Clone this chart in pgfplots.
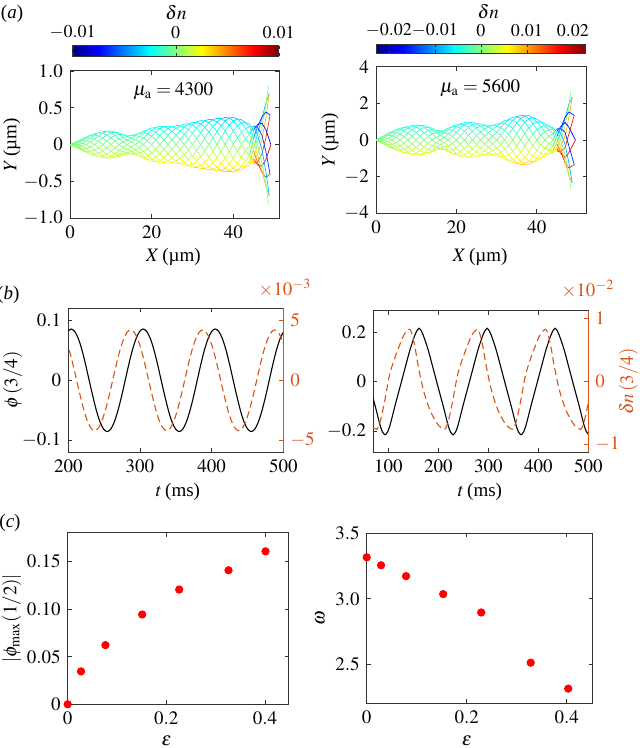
\documentclass[border=0pt]{standalone}
\usepackage{mathptmx}
\usepackage{fontspec}
\setmainfont{Liberation Serif}
\usepackage{pgfplots}
\usepackage{pgfplotstable}
\pgfplotsset{compat=1.18}
\definecolor{bred}{HTML}{D95319}
\newcommand{\fs}{\fontsize{9.5}{11}\selectfont}
\pgfplotsset{
  base/.style={scale only axis, anchor=south west,
    axis line style={black!80, line width=0.5pt},
    tick style={black!80, line width=0.4pt},
    major tick length=2pt, tick align=inside,
    tick label style={font=\fs}, scaled ticks=false},
  cbar/.style={scale only axis, anchor=south west, scaled ticks=false,
    xticklabel pos=upper, tick align=inside, major tick length=1.5pt,
    tick label style={font=\fontsize{9}{10}\selectfont},
    axis line style={black!80, line width=0.4pt},
    tick style={black!80}},
  fil/.style={mesh, line width=0.35pt},
}
% filament shapes, mu_a = 4300
\pgfplotstableread{
X y0 y1 y2 y3 y4 y5 y6 y7 y8 y9 y10 y11
0 0 0 0 0 0 0 0 0 0 0 0 0
1 0.007 -0.007 -0.018 -0.024 -0.024 -0.018 -0.007 0.007 0.018 0.024 0.024 0.018
2 0.025 0 -0.025 -0.043 -0.05 -0.043 -0.025 0 0.025 0.043 0.05 0.043
3 0.057 0.021 -0.021 -0.057 -0.077 -0.077 -0.057 -0.021 0.021 0.057 0.077 0.077
4 0.091 0.053 0 -0.053 -0.091 -0.105 -0.091 -0.053 0 0.053 0.091 0.105
5 0.126 0.092 0.034 -0.034 -0.092 -0.126 -0.126 -0.092 -0.034 0.034 0.092 0.126
6 0.15 0.13 0.075 0 -0.075 -0.13 -0.15 -0.13 -0.075 0 0.075 0.13
7 0.159 0.159 0.117 0.043 -0.043 -0.117 -0.159 -0.159 -0.117 -0.043 0.043 0.117
8 0.154 0.178 0.154 0.089 0 -0.089 -0.154 -0.178 -0.154 -0.089 0 0.089
9 0.131 0.179 0.179 0.131 0.048 -0.048 -0.131 -0.179 -0.179 -0.131 -0.048 0.048
10 0.093 0.16 0.185 0.16 0.093 0 -0.093 -0.16 -0.185 -0.16 -0.093 0
11 0.045 0.124 0.169 0.169 0.124 0.045 -0.045 -0.124 -0.169 -0.169 -0.124 -0.045
12 0 0.08 0.139 0.16 0.139 0.08 0 -0.08 -0.139 -0.16 -0.139 -0.08
13 -0.036 0.036 0.099 0.135 0.135 0.099 0.036 -0.036 -0.099 -0.135 -0.135 -0.099
14 -0.064 0 0.064 0.111 0.128 0.111 0.064 0 -0.064 -0.111 -0.128 -0.111
15 -0.091 -0.033 0.033 0.091 0.124 0.124 0.091 0.033 -0.033 -0.091 -0.124 -0.124
16 -0.121 -0.07 0 0.07 0.121 0.14 0.121 0.07 0 -0.07 -0.121 -0.14
17 -0.155 -0.113 -0.041 0.041 0.113 0.155 0.155 0.113 0.041 -0.041 -0.113 -0.155
18 -0.185 -0.16 -0.093 0 0.093 0.16 0.185 0.16 0.093 0 -0.093 -0.16
19 -0.203 -0.203 -0.149 -0.054 0.054 0.149 0.203 0.203 0.149 0.054 -0.054 -0.149
20 -0.197 -0.228 -0.197 -0.114 0 0.114 0.197 0.228 0.197 0.114 0 -0.114
21 -0.17 -0.232 -0.232 -0.17 -0.062 0.062 0.17 0.232 0.232 0.17 0.062 -0.062
22 -0.124 -0.215 -0.248 -0.215 -0.124 0 0.124 0.215 0.248 0.215 0.124 0
23 -0.065 -0.178 -0.243 -0.243 -0.178 -0.065 0.065 0.178 0.243 0.243 0.178 0.065
24 0 -0.126 -0.218 -0.252 -0.218 -0.126 0 0.126 0.218 0.252 0.218 0.126
25 0.065 -0.065 -0.178 -0.243 -0.243 -0.178 -0.065 0.065 0.178 0.243 0.243 0.178
26 0.128 0 -0.128 -0.222 -0.256 -0.222 -0.128 0 0.128 0.222 0.256 0.222
27 0.187 0.069 -0.069 -0.187 -0.256 -0.256 -0.187 -0.069 0.069 0.187 0.256 0.256
28 0.241 0.139 0 -0.139 -0.241 -0.278 -0.241 -0.139 0 0.139 0.241 0.278
29 0.282 0.207 0.076 -0.076 -0.207 -0.282 -0.282 -0.207 -0.076 0.076 0.207 0.282
30 0.305 0.264 0.153 0 -0.153 -0.264 -0.305 -0.264 -0.153 0 0.153 0.264
31 0.305 0.305 0.223 0.082 -0.082 -0.223 -0.305 -0.305 -0.223 -0.082 0.082 0.223
32 0.282 0.326 0.282 0.163 0 -0.163 -0.282 -0.326 -0.282 -0.163 0 0.163
33 0.237 0.324 0.324 0.237 0.087 -0.087 -0.237 -0.324 -0.324 -0.237 -0.087 0.087
34 0.172 0.297 0.343 0.297 0.172 0 -0.172 -0.297 -0.343 -0.297 -0.172 0
35 0.091 0.248 0.338 0.338 0.248 0.091 -0.091 -0.248 -0.338 -0.338 -0.248 -0.091
36 0 0.179 0.309 0.357 0.309 0.179 0 -0.179 -0.309 -0.357 -0.309 -0.179
37 -0.094 0.094 0.257 0.352 0.352 0.257 0.094 -0.094 -0.257 -0.352 -0.352 -0.257
38 -0.185 0 0.185 0.32 0.37 0.32 0.185 0 -0.185 -0.32 -0.37 -0.32
39 -0.265 -0.097 0.097 0.265 0.361 0.361 0.265 0.097 -0.097 -0.265 -0.361 -0.361
40 -0.322 -0.186 0 0.186 0.322 0.372 0.322 0.186 0 -0.186 -0.322 -0.372
41 -0.348 -0.255 -0.093 0.093 0.255 0.348 0.348 0.255 0.093 -0.093 -0.255 -0.348
42 -0.34 -0.294 -0.17 0 0.17 0.294 0.34 0.294 0.17 0 -0.17 -0.294
43 -0.299 -0.299 -0.219 -0.08 0.08 0.219 0.299 0.299 0.219 0.08 -0.08 -0.219
44 -0.242 -0.28 -0.242 -0.14 0 0.14 0.242 0.28 0.242 0.14 0 -0.14
}\tabL
% filament shapes, mu_a = 5600
\pgfplotstableread{
X y0 y1 y2 y3 y4 y5 y6 y7 y8 y9 y10 y11
0 0 0 0 0 0 0 0 0 0 0 0 0
1 0.031 -0.031 -0.085 -0.116 -0.116 -0.085 -0.031 0.031 0.085 0.116 0.116 0.085
2 0.12 0 -0.12 -0.208 -0.24 -0.208 -0.12 0 0.12 0.208 0.24 0.208
3 0.255 0.093 -0.093 -0.255 -0.348 -0.348 -0.255 -0.093 0.093 0.255 0.348 0.348
4 0.398 0.23 0 -0.23 -0.398 -0.46 -0.398 -0.23 0 0.23 0.398 0.46
5 0.541 0.396 0.145 -0.145 -0.396 -0.541 -0.541 -0.396 -0.145 0.145 0.396 0.541
6 0.64 0.554 0.32 0 -0.32 -0.554 -0.64 -0.554 -0.32 0 0.32 0.554
7 0.686 0.686 0.502 0.184 -0.184 -0.502 -0.686 -0.686 -0.502 -0.184 0.184 0.502
8 0.658 0.76 0.658 0.38 0 -0.38 -0.658 -0.76 -0.658 -0.38 0 0.38
9 0.566 0.773 0.773 0.566 0.207 -0.207 -0.566 -0.773 -0.773 -0.566 -0.207 0.207
10 0.41 0.71 0.82 0.71 0.41 0 -0.41 -0.71 -0.82 -0.71 -0.41 0
11 0.212 0.58 0.792 0.792 0.58 0.212 -0.212 -0.58 -0.792 -0.792 -0.58 -0.212
12 0 0.395 0.684 0.79 0.684 0.395 0 -0.395 -0.684 -0.79 -0.684 -0.395
13 -0.189 0.189 0.516 0.705 0.705 0.516 0.189 -0.189 -0.516 -0.705 -0.705 -0.516
14 -0.32 0 0.32 0.554 0.64 0.554 0.32 0 -0.32 -0.554 -0.64 -0.554
15 -0.389 -0.142 0.142 0.389 0.531 0.531 0.389 0.142 -0.142 -0.389 -0.531 -0.531
16 -0.433 -0.25 0 0.25 0.433 0.5 0.433 0.25 0 -0.25 -0.433 -0.5
17 -0.522 -0.382 -0.14 0.14 0.382 0.522 0.522 0.382 0.14 -0.14 -0.382 -0.522
18 -0.65 -0.563 -0.325 0 0.325 0.563 0.65 0.563 0.325 0 -0.325 -0.563
19 -0.734 -0.734 -0.537 -0.197 0.197 0.537 0.734 0.734 0.537 0.197 -0.197 -0.537
20 -0.736 -0.85 -0.736 -0.425 0 0.425 0.736 0.85 0.736 0.425 0 -0.425
21 -0.643 -0.879 -0.879 -0.643 -0.236 0.236 0.643 0.879 0.879 0.643 0.236 -0.236
22 -0.475 -0.823 -0.95 -0.823 -0.475 0 0.475 0.823 0.95 0.823 0.475 0
23 -0.251 -0.686 -0.937 -0.937 -0.686 -0.251 0.251 0.686 0.937 0.937 0.686 0.251
24 0 -0.48 -0.831 -0.96 -0.831 -0.48 0 0.48 0.831 0.96 0.831 0.48
25 0.238 -0.238 -0.651 -0.889 -0.889 -0.651 -0.238 0.238 0.651 0.889 0.889 0.651
26 0.435 0 -0.435 -0.753 -0.87 -0.753 -0.435 0 0.435 0.753 0.87 0.753
27 0.587 0.215 -0.215 -0.587 -0.802 -0.802 -0.587 -0.215 0.215 0.587 0.802 0.802
28 0.701 0.405 0 -0.405 -0.701 -0.81 -0.701 -0.405 0 0.405 0.701 0.81
29 0.792 0.58 0.212 -0.212 -0.58 -0.792 -0.792 -0.58 -0.212 0.212 0.58 0.792
30 0.87 0.753 0.435 0 -0.435 -0.753 -0.87 -0.753 -0.435 0 0.435 0.753
31 0.918 0.918 0.672 0.246 -0.246 -0.672 -0.918 -0.918 -0.672 -0.246 0.246 0.672
32 0.909 1.05 0.909 0.525 0 -0.525 -0.909 -1.05 -0.909 -0.525 0 0.525
33 0.813 1.111 1.111 0.813 0.298 -0.298 -0.813 -1.111 -1.111 -0.813 -0.298 0.298
34 0.62 1.074 1.24 1.074 0.62 0 -0.62 -1.074 -1.24 -1.074 -0.62 0
35 0.339 0.926 1.265 1.265 0.926 0.339 -0.339 -0.926 -1.265 -1.265 -0.926 -0.339
36 0 0.675 1.169 1.35 1.169 0.675 0 -0.675 -1.169 -1.35 -1.169 -0.675
37 -0.352 0.352 0.962 1.314 1.314 0.962 0.352 -0.352 -0.962 -1.314 -1.314 -0.962
38 -0.665 0 0.665 1.152 1.33 1.152 0.665 0 -0.665 -1.152 -1.33 -1.152
39 -0.884 -0.324 0.324 0.884 1.207 1.207 0.884 0.324 -0.324 -0.884 -1.207 -1.207
40 -0.987 -0.57 0 0.57 0.987 1.14 0.987 0.57 0 -0.57 -0.987 -1.14
41 -0.985 -0.721 -0.264 0.264 0.721 0.985 0.985 0.721 0.264 -0.264 -0.721 -0.985
42 -0.9 -0.779 -0.45 0 0.45 0.779 0.9 0.779 0.45 0 -0.45 -0.779
43 -0.753 -0.753 -0.552 -0.202 0.202 0.552 0.753 0.753 0.552 0.202 -0.202 -0.552
44 -0.589 -0.68 -0.589 -0.34 0 0.34 0.589 0.68 0.589 0.34 0 -0.34
}\tabR

\begin{document}
\begin{tikzpicture}
\useasboundingbox (0,0) rectangle (319.5pt,374pt);

% ---------------- (a) left
\begin{axis}[base, at={(35pt,264.85pt)}, width=104.65pt, height=73.65pt,
  xmin=0, xmax=51.26, ymin=-1, ymax=1,
  xtick={0,20,40}, ytick={-1,-0.5,0,0.5,1},
  yticklabels={$-1.0$,$-0.5$,$0$,$0.5$,$1.0$},
  colormap/jet, point meta min=-0.01, point meta max=0.01,
  colorbar horizontal, colorbar shift/.style={},
  colorbar style={cbar, at={(36.35pt,346pt)}, anchor=south west,
    width=103pt, height=5.15pt,
    xtick={-0.01,0,0.01}, xticklabels={$-0.01$,$0$,$0.01$}}]
\pgfplotsinvokeforeach{0,...,11}{
  \addplot[fil, point meta={-0.0097*\thisrow{y#1}}]
    table[x=X, y=y#1] {\tabL};
}
\addplot[fil, point meta=explicit] coordinates {(44,-0.242)[0.00235] (45,-0.045)[-0.0021] (46,0.161)[-0.00375] (47,0.357)[-0.00375] (48,0.571)[-0.00375] (48.8,0.693)[-0.00375]};
\addplot[fil, point meta=explicit] coordinates {(44,-0.28)[0.00272] (45,-0.167)[0.0006] (46,0.024)[0] (47,0.244)[0] (48,0.545)[0] (48.6,0.8)[0]};
\addplot[fil, point meta=explicit] coordinates {(44,-0.242)[0.00235] (45,-0.244)[0.0031] (46,-0.118)[0.00375] (47,0.066)[0.00375] (48,0.373)[0.00375] (48.8,0.693)[0.00375]};
\addplot[fil, point meta=explicit] coordinates {(44,-0.14)[0.00136] (45,-0.256)[0.0048] (46,-0.229)[0.0065] (47,-0.13)[0.0065] (48,0.101)[0.0065] (49.0,0.4)[0.0065]};
\addplot[fil, point meta=explicit] coordinates {(44,0)[0] (45,-0.199)[0.0052] (46,-0.279)[0.0075] (47,-0.291)[0.0075] (48,-0.198)[0.0075] (49.2,0)[0.0075]};
\addplot[fil, point meta=explicit] coordinates {(44,0.14)[-0.00136] (45,-0.089)[0.0042] (46,-0.254)[0.0065] (47,-0.374)[0.0065] (48,-0.444)[0.0065] (49.0,-0.4)[0.0065]};
\addplot[fil, point meta=explicit] coordinates {(44,0.242)[-0.00235] (45,0.045)[0.0021] (46,-0.161)[0.00375] (47,-0.357)[0.00375] (48,-0.571)[0.00375] (48.8,-0.693)[0.00375]};
\addplot[fil, point meta=explicit] coordinates {(44,0.28)[-0.00272] (45,0.167)[-0.0006] (46,-0.024)[0] (47,-0.244)[0] (48,-0.545)[0] (48.6,-0.8)[0]};
\addplot[fil, point meta=explicit] coordinates {(44,0.242)[-0.00235] (45,0.244)[-0.0031] (46,0.118)[-0.00375] (47,-0.066)[-0.00375] (48,-0.373)[-0.00375] (48.8,-0.693)[-0.00375]};
\addplot[fil, point meta=explicit] coordinates {(44,0.14)[-0.00136] (45,0.256)[-0.0048] (46,0.229)[-0.0065] (47,0.13)[-0.0065] (48,-0.101)[-0.0065] (49.0,-0.4)[-0.0065]};
\addplot[fil, point meta=explicit] coordinates {(44,0)[0] (45,0.199)[-0.0052] (46,0.279)[-0.0075] (47,0.291)[-0.0075] (48,0.198)[-0.0075] (49.2,0)[-0.0075]};
\addplot[fil, point meta=explicit] coordinates {(44,-0.14)[0.00136] (45,0.089)[-0.0042] (46,0.254)[-0.0065] (47,0.374)[-0.0065] (48,0.444)[-0.0065] (49.0,0.4)[-0.0065]};
\node[font=\fs] at (axis cs:25.3,0.72) {$\mu_{\mathrm{a}}=4300$};
\end{axis}

% ---------------- (a) right
\begin{axis}[base, at={(188pt,267.35pt)}, width=105.35pt, height=73.3pt,
  xmin=0, xmax=52.4, ymin=-4, ymax=4,
  xtick={0,20,40}, ytick={-4,-2,0,2,4},
  colormap/jet, point meta min=-0.0228, point meta max=0.0228,
  colorbar horizontal, colorbar shift/.style={},
  colorbar style={cbar, at={(188pt,347.35pt)}, anchor=south west,
    width=104.85pt, height=4.5pt,
    xtick={-0.02,-0.01,0,0.01,0.02},
    xticklabels={$-0.02$,$-0.01$,$0$,$0.01$,$0.02$}}]
\pgfplotsinvokeforeach{0,...,11}{
  \addplot[fil, point meta={-0.006*\thisrow{y#1}}]
    table[x=X, y=y#1] {\tabR};
}
\addplot[fil, point meta=explicit] coordinates {(44,-0.589)[0.00353] (45,-0.108)[-0.0052] (46,0.431)[-0.009] (47,1.175)[-0.009] (48,1.97)[-0.009] (48.8,2.338)[-0.009]};
\addplot[fil, point meta=explicit] coordinates {(44,-0.68)[0.00408] (45,-0.399)[0.0009] (46,0.065)[0] (47,0.804)[0] (48,1.88)[0] (48.5,2.7)[0]};
\addplot[fil, point meta=explicit] coordinates {(44,-0.589)[0.00353] (45,-0.583)[0.0067] (46,-0.317)[0.009] (47,0.218)[0.009] (48,1.286)[0.009] (48.8,2.338)[0.009]};
\addplot[fil, point meta=explicit] coordinates {(44,-0.34)[0.00204] (45,-0.611)[0.0107] (46,-0.614)[0.0156] (47,-0.428)[0.0156] (48,0.348)[0.0156] (49.3,1.35)[0.0156]};
\addplot[fil, point meta=explicit] coordinates {(44,0)[0] (45,-0.475)[0.0118] (46,-0.747)[0.018] (47,-0.958)[0.018] (48,-0.684)[0.018] (49.6,0)[0.018]};
\addplot[fil, point meta=explicit] coordinates {(44,0.34)[-0.00204] (45,-0.212)[0.0098] (46,-0.68)[0.0156] (47,-1.231)[0.0156] (48,-1.532)[0.0156] (49.3,-1.35)[0.0156]};
\addplot[fil, point meta=explicit] coordinates {(44,0.589)[-0.00353] (45,0.108)[0.0052] (46,-0.431)[0.009] (47,-1.175)[0.009] (48,-1.97)[0.009] (48.8,-2.338)[0.009]};
\addplot[fil, point meta=explicit] coordinates {(44,0.68)[-0.00408] (45,0.399)[-0.0009] (46,-0.065)[0] (47,-0.804)[0] (48,-1.88)[0] (48.5,-2.7)[0]};
\addplot[fil, point meta=explicit] coordinates {(44,0.589)[-0.00353] (45,0.583)[-0.0067] (46,0.317)[-0.009] (47,-0.218)[-0.009] (48,-1.286)[-0.009] (48.8,-2.338)[-0.009]};
\addplot[fil, point meta=explicit] coordinates {(44,0.34)[-0.00204] (45,0.611)[-0.0107] (46,0.614)[-0.0156] (47,0.428)[-0.0156] (48,-0.348)[-0.0156] (49.3,-1.35)[-0.0156]};
\addplot[fil, point meta=explicit] coordinates {(44,0)[0] (45,0.475)[-0.0118] (46,0.747)[-0.018] (47,0.958)[-0.018] (48,0.684)[-0.018] (49.6,0)[-0.018]};
\addplot[fil, point meta=explicit] coordinates {(44,-0.34)[0.00204] (45,0.212)[-0.0098] (46,0.68)[-0.0156] (47,1.231)[-0.0156] (48,1.532)[-0.0156] (49.3,1.35)[-0.0156]};
\node[font=\fs] at (axis cs:25.9,2.82) {$\mu_{\mathrm{a}}=5600$};
\end{axis}

% ---------------- (b) left
\begin{axis}[base, at={(34.15pt,147.85pt)}, width=107.5pt, height=72pt,
  xmin=200, xmax=500, ymin=-0.12, ymax=0.12,
  xtick={200,300,400,500}, ytick={-0.1,0,0.1}, ytick pos=left]
\addplot[black, line width=0.55pt, smooth] coordinates {
(199.0,0.0813) (204.0,0.0855) (209.0,0.0813) (214.1,0.0692) (219.1,0.0503) (224.1,0.0264)
(229.1,0) (234.2,-0.0264) (239.2,-0.0503) (244.2,-0.0692) (249.2,-0.0813) (254.3,-0.0855)
(259.3,-0.0813) (264.3,-0.0692) (269.3,-0.0503) (274.4,-0.0264) (279.4,0) (284.4,0.0264)
(289.4,0.0503) (294.5,0.0692) (299.5,0.0813) (304.5,0.0855) (309.5,0.0813) (314.6,0.0692)
(319.6,0.0503) (324.6,0.0264) (329.6,0) (334.7,-0.0264) (339.7,-0.0503) (344.7,-0.0692)
(349.7,-0.0813) (354.8,-0.0855) (359.8,-0.0813) (364.8,-0.0692) (369.8,-0.0503) (374.9,-0.0264)
(379.9,0) (384.9,0.0264) (389.9,0.0503) (395.0,0.0692) (400.0,0.0813) (405.0,0.0855)
(410.0,0.0813) (415.1,0.0692) (420.1,0.0503) (425.1,0.0264) (430.1,0) (435.2,-0.0264)
(440.2,-0.0503) (445.2,-0.0692) (450.2,-0.0813) (455.3,-0.0855) (460.3,-0.0813) (465.3,-0.0692)
(470.3,-0.0503) (475.4,-0.0264) (480.4,0) (485.4,0.0264) (490.4,0.0503) (495.5,0.0692) (500.5,0.0813)};
\end{axis}
\begin{axis}[base, at={(34.15pt,147.85pt)}, width=107.5pt, height=72pt,
  xmin=200, xmax=500, ymin=-6, ymax=6,
  axis x line=none, axis y line*=right, tick align=inside,
  ytick={-5,0,5}, y axis line style={bred}, ytick style={bred},
  yticklabel style={text=bred}]
\addplot[bred, line width=0.55pt, smooth, dash pattern=on 3.5pt off 2pt] coordinates {
(196.6,3.398) (201.6,2.469) (206.6,1.298) (211.6,0) (216.7,-1.298) (221.7,-2.469)
(226.7,-3.398) (231.7,-3.994) (236.8,-4.2) (241.8,-3.994) (246.8,-3.398) (251.8,-2.469)
(256.9,-1.298) (261.9,0) (266.9,1.298) (271.9,2.469) (277.0,3.398) (282.0,3.994)
(287.0,4.2) (292.0,3.994) (297.1,3.398) (302.1,2.469) (307.1,1.298) (312.1,0)
(317.2,-1.298) (322.2,-2.469) (327.2,-3.398) (332.2,-3.994) (337.3,-4.2) (342.3,-3.994)
(347.3,-3.398) (352.3,-2.469) (357.4,-1.298) (362.4,0) (367.4,1.298) (372.4,2.469)
(377.5,3.398) (382.5,3.994) (387.5,4.2) (392.5,3.994) (397.6,3.398) (402.6,2.469)
(407.6,1.298) (412.6,0) (417.7,-1.298) (422.7,-2.469) (427.7,-3.398) (432.7,-3.994)
(437.8,-4.2) (442.8,-3.994) (447.8,-3.398) (452.8,-2.469) (457.9,-1.298) (462.9,0)
(467.9,1.298) (472.9,2.469) (478.0,3.398) (483.0,3.994) (488.0,4.2) (493.0,3.994)
(498.1,3.398) (503.1,2.469)};
\end{axis}

% ---------------- (b) right
\begin{axis}[base, at={(186.65pt,147.85pt)}, width=107.5pt, height=70.8pt,
  xmin=70, xmax=500, ymin=-0.286, ymax=0.286,
  xtick={100,200,300,400,500}, ytick={-0.2,0,0.2}, ytick pos=left]
\addplot[black, line width=0.55pt, smooth] coordinates {
(63.5,-0.022) (73.5,-0.097) (83.5,-0.176) (88.5,-0.204) (93.5,-0.215) (98.5,-0.204)
(103.5,-0.176) (113.5,-0.097) (123.5,-0.022) (133.5,0.054) (143.5,0.129) (153.5,0.189)
(158.5,0.209) (161.5,0.215) (164.5,0.209) (169.5,0.189) (179.5,0.129) (189.5,0.054)
(199.5,-0.022) (209.5,-0.097) (219.5,-0.176) (224.5,-0.204) (229.5,-0.215) (234.5,-0.204)
(239.5,-0.176) (249.5,-0.097) (259.5,-0.022) (269.5,0.054) (279.5,0.129) (289.5,0.189)
(294.5,0.209) (297.5,0.215) (300.5,0.209) (305.5,0.189) (315.5,0.129) (325.5,0.054)
(335.5,-0.022) (345.5,-0.097) (355.5,-0.176) (360.5,-0.204) (365.5,-0.215) (370.5,-0.204)
(375.5,-0.176) (385.5,-0.097) (395.5,-0.022) (405.5,0.054) (415.5,0.129) (425.5,0.189)
(430.5,0.209) (433.5,0.215) (436.5,0.209) (441.5,0.189) (451.5,0.129) (461.5,0.054)
(471.5,-0.022) (481.5,-0.097) (491.5,-0.176) (496.5,-0.204) (501.5,-0.215)};
\end{axis}
\begin{axis}[base, at={(186.65pt,147.85pt)}, width=107.5pt, height=70.8pt,
  xmin=70, xmax=500, ymin=-1.125, ymax=1.125,
  axis x line=none, axis y line*=right, tick align=inside,
  ytick={-1,0,1}, y axis line style={bred}, ytick style={bred},
  yticklabel style={text=bred}]
\addplot[bred, line width=0.55pt, smooth, dash pattern=on 3.5pt off 2pt] coordinates {
(69,-0.73) (77,-0.76) (81,-0.7) (85,-0.6) (93,-0.3) (103,0.12) (117,0.46) (130,0.72)
(137,0.8) (143,0.83) (147,0.76) (153,0.56) (160,0.24) (170,-0.13) (183,-0.45) (197,-0.66)
(205,-0.73) (213,-0.76) (217,-0.7) (221,-0.6) (229,-0.3) (239,0.12) (253,0.46) (266,0.72)
(273,0.8) (279,0.83) (283,0.76) (289,0.56) (296,0.24) (306,-0.13) (319,-0.45) (333,-0.66)
(341,-0.73) (349,-0.76) (353,-0.7) (357,-0.6) (365,-0.3) (375,0.12) (389,0.46) (402,0.72)
(409,0.8) (415,0.83) (419,0.76) (425,0.56) (432,0.24) (442,-0.13) (455,-0.45) (469,-0.66)
(477,-0.73) (485,-0.76) (489,-0.7) (493,-0.6) (501,-0.3)};
\end{axis}

% ---------------- (c) left
\begin{axis}[base, at={(33.85pt,21.85pt)}, width=110.5pt, height=85.8pt,
  xmin=0, xmax=0.448, ymin=0, ymax=0.1804, clip=false,
  xtick={0,0.2,0.4}, ytick={0,0.05,0.1,0.15},
  yticklabels={$0$,$0.05$,$0.10$,$0.15$}]
\addplot[only marks, mark=*, mark size=1.85pt, red] coordinates {
(0,0) (0.027,0.0346) (0.0765,0.0622) (0.151,0.0944) (0.226,0.1206) (0.326,0.1409) (0.401,0.1608)};
\end{axis}

% ---------------- (c) right
\begin{axis}[base, at={(183.35pt,22.35pt)}, width=113pt, height=85pt,
  xmin=0, xmax=0.452, ymin=2.203, ymax=3.5, clip=false,
  xtick={0,0.2,0.4}, ytick={2.5,3,3.5},
  yticklabels={$2.5$,$3.0$,$3.5$}]
\addplot[only marks, mark=*, mark size=1.85pt, red] coordinates {
(0,3.317) (0.0287,3.256) (0.0787,3.173) (0.153,3.036) (0.229,2.896) (0.328,2.513) (0.403,2.315)};
\end{axis}

% ---------------- labels
\node[font=\fs] at (6pt,367.25pt) {(\textit{a})};
\node[font=\fs] at (88pt,367.65pt) {$\delta n$};
\node[font=\fs] at (244.15pt,368.15pt) {$\delta n$};
\node[font=\fs, rotate=90] at (5.85pt,301.5pt) {$Y$\,(µm)};
\node[font=\fs] at (86.65pt,245.65pt) {$X$\,(µm)};
\node[font=\fs, rotate=90] at (165pt,304pt) {$Y$\,(µm)};
\node[font=\fs] at (240pt,245.65pt) {$X$\,(µm)};
\node[font=\fs] at (4.15pt,226.5pt) {(\textit{b})};
\node[font=\fs, rotate=90] at (6.35pt,184pt) {$\phi\,(3/4)$};
\node[font=\fs] at (89pt,128pt) {$t$\,(ms)};
\node[font=\fs] at (240pt,128pt) {$t$\,(ms)};
\node[font=\fs, rotate=90, text=bred] at (314.15pt,183.15pt) {$\delta n\,(3/4)$};
\node[font=\fs, text=bred] at (142.5pt,230pt) {$\times10^{-3}$};
\node[font=\fs, text=bred] at (294pt,229.5pt) {$\times10^{-2}$};
\node[font=\fs] at (5pt,112.35pt) {(\textit{c})};
\node[font=\fs, rotate=90] at (5.85pt,64.85pt) {$|\phi_{\max}(1/2)|$};
\node[font=\fs] at (83.35pt,3.5pt) {$\varepsilon$};
\node[font=\fs, rotate=90] at (160pt,64.85pt) {$\omega$};
\node[font=\fs] at (233.35pt,3.5pt) {$\varepsilon$};
\end{tikzpicture}
\end{document}
